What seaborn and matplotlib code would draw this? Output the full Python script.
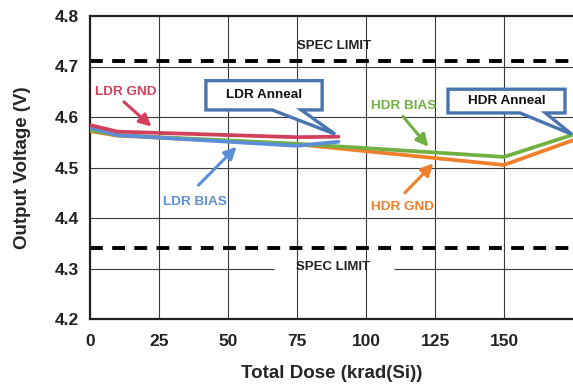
import numpy as np
import pandas as pd
import matplotlib
matplotlib.use("Agg")
import matplotlib.pyplot as plt
from matplotlib.patches import Polygon
import seaborn as sns

# ---- data ----
ldr_dose = [0, 10, 75, 90]
ldr_gnd = [4.584, 4.571, 4.560, 4.561]
ldr_bias = [4.579, 4.564, 4.543, 4.551]
hdr_dose = [0, 10, 75, 150, 175]
hdr_gnd = [4.572, 4.563, 4.546, 4.505, 4.554]
hdr_bias = [4.574, 4.564, 4.547, 4.521, 4.565]
spec_upper = 4.71
spec_lower = 4.34
xticks = [0, 25, 50, 75, 100, 125, 150]
yticks = [4.2, 4.3, 4.4, 4.5, 4.6, 4.7, 4.8]

series_order = ["HDR GND", "HDR BIAS", "LDR BIAS", "LDR GND"]
colors = {"HDR GND": "#F07F2C", "HDR BIAS": "#72B043",
          "LDR BIAS": "#5B8ED6", "LDR GND": "#D2405C"}
box_blue = "#4874B0"

frames = []
for name, d, v in [("HDR GND", hdr_dose, hdr_gnd), ("HDR BIAS", hdr_dose, hdr_bias),
                   ("LDR BIAS", ldr_dose, ldr_bias), ("LDR GND", ldr_dose, ldr_gnd)]:
    frames.append(pd.DataFrame({"dose": d, "volt": v, "series": name}))
df = pd.concat(frames, ignore_index=True)

sns.set_theme(style="white")
plt.rcParams['font.family'] = ['Liberation Sans', 'DejaVu Sans']
plt.rcParams['font.weight'] = 'bold'

fig = plt.figure(figsize=(5.73, 3.85), dpi=100)
ax = fig.add_axes([90/573, 1-319/385, 1-90/573, (319-16)/385])

# manual grid
for y in yticks[1:-1]:
    ax.axhline(y, color="#3a3a3a", lw=0.8, zorder=0.5)
for x in xticks[1:]:
    ax.axvline(x, color="#3a3a3a", lw=0.8, zorder=0.7)
# white break in the 4.3 gridline behind lower SPEC LIMIT
ax.plot([66.7, 110.2], [4.3, 4.3], color="white", lw=2.5, zorder=0.6,
        solid_capstyle="butt")

# spec limits
for s in (spec_upper, spec_lower):
    ax.axhline(s, color="black", lw=2.8, dashes=(3.3, 2.4), zorder=1)

sns.lineplot(data=df, x="dose", y="volt", hue="series", hue_order=series_order,
             palette=colors, lw=2.7, ax=ax, legend=False, sort=False,
             estimator=None, zorder=3)

ax.set_xlim(0, 175)
ax.set_ylim(4.2, 4.8)
ax.set_xticks(xticks)
ax.set_yticks(yticks)
ax.set_xticklabels([str(t) for t in xticks], fontsize=12.5, fontweight="bold")
ax.set_yticklabels([f"{t:.1f}" for t in yticks], fontsize=12.5, fontweight="bold")
ax.tick_params(axis="both", length=0, colors="#222222")
ax.tick_params(axis="y", pad=8)
ax.tick_params(axis="x", pad=11)
ax.set_xlabel("Total Dose (krad(Si))", fontsize=13.5, fontweight="bold", labelpad=11)
ax.set_ylabel("Output Voltage (V)", fontsize=13.5, fontweight="bold", labelpad=17)
for sp in ["left", "bottom", "top"]:
    ax.spines[sp].set_color("#222222")
    ax.spines[sp].set_linewidth(1.6)
ax.spines["right"].set_visible(False)

# spec limit text
ax.text(88.4, 4.741, "SPEC LIMIT", ha="center", va="center", fontsize=9.5,
        fontweight="bold", color="#222222", zorder=5)
ax.text(88.2, 4.302, "SPEC LIMIT", ha="center", va="center", fontsize=9.5,
        fontweight="bold", color="#222222", zorder=5)

# series labels with arrows
def label(txt, xy_text, xy_tip, xy_tail, color):
    ax.text(*xy_text, txt, ha="center", va="center", fontsize=9.7,
            fontweight="bold", color=color, zorder=6)
    ax.annotate("", xy=xy_tip, xytext=xy_tail,
                arrowprops=dict(arrowstyle="-|>,head_length=0.6,head_width=0.3",
                                color=color, lw=2.2, shrinkA=0, shrinkB=0),
                zorder=6)

label("LDR GND", (13.0, 4.650), (22.3, 4.581), (12.3, 4.630), colors["LDR GND"])
label("HDR BIAS", (113.6, 4.622), (122.6, 4.541), (113.4, 4.601), colors["HDR BIAS"])
label("LDR BIAS", (38.0, 4.432), (53.1, 4.541), (39.3, 4.465), colors["LDR BIAS"])
label("HDR GND", (113.2, 4.422), (124.4, 4.508), (114.1, 4.450), colors["HDR GND"])

# callouts
def callout(txt, x0, x1, y0, y1, b0, b1, tip):
    verts = [(x0, y1), (x1, y1), (x1, y0), (b1, y0), tip, (b0, y0), (x0, y0)]
    poly = Polygon(verts, closed=True, facecolor="white", edgecolor=box_blue,
                   lw=2.4, joinstyle="miter", zorder=7, clip_on=False)
    ax.add_patch(poly)
    ax.text((x0 + x1) / 2, (y0 + y1) / 2, txt, ha="center", va="center",
            fontsize=9.7, fontweight="bold", color="#111111", zorder=8)

callout("LDR Anneal", 42.0, 84.1, 4.614, 4.672, 66.0, 76.5, (88.8, 4.566))
callout("HDR Anneal", 129.7, 172.1, 4.608, 4.655, 155.8, 165.0, (174.5, 4.566))

fig.savefig("out.png", dpi=100)
